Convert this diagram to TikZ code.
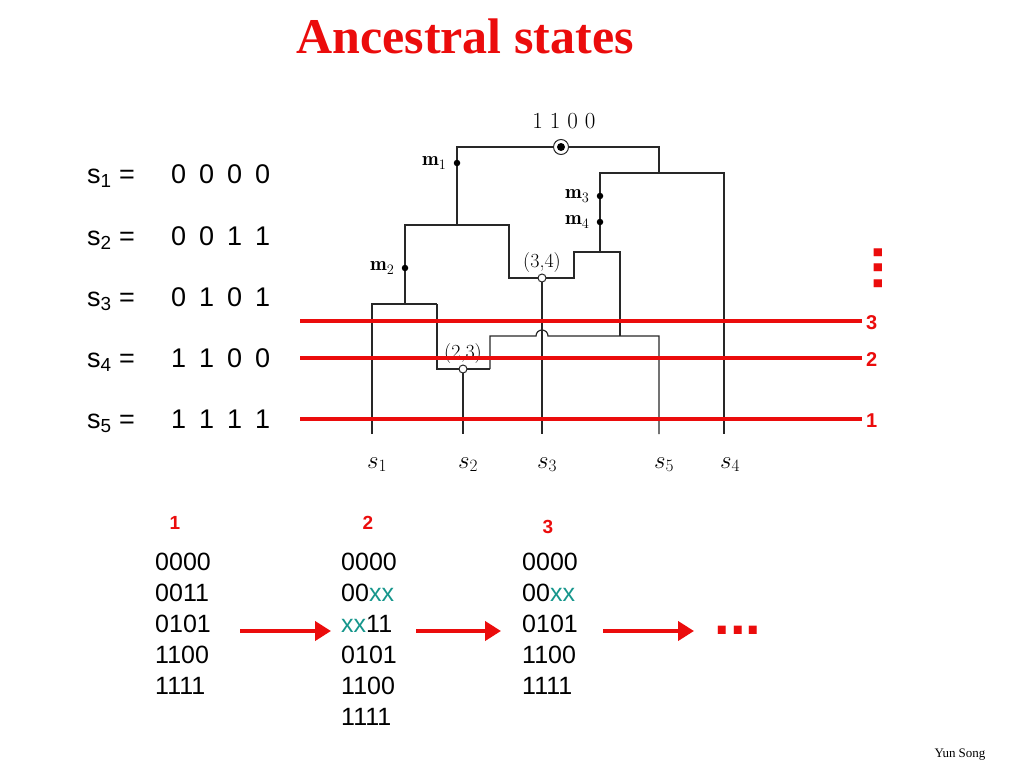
\documentclass[tikz,border=0pt]{standalone}
\usepackage{fontspec}
\usetikzlibrary{arrows.meta}

\newfontfamily\arialfont{Liberation Sans}
\newfontfamily\timesfont{Liberation Serif}

\definecolor{slidered}{RGB}{235,12,12}
\definecolor{xxteal}{RGB}{22,150,140}
\definecolor{treegray}{RGB}{40,40,40}

\begin{document}
\begin{tikzpicture}[x=1pt, y=-1pt,
  branch/.style = {draw=treegray, line width=1.2pt},
  mut/.style = {circle, fill=black, inner sep=0pt, minimum size=6.5pt},
  rec/.style = {circle, draw=treegray, fill=white, line width=1pt, inner sep=0pt, minimum size=8pt},
  mlabel/.style = {font=\fontsize{20}{24}\selectfont, inner sep=1pt},
  leaf/.style = {font=\fontsize{25}{29}\selectfont, anchor=base, inner sep=0pt},
  cut/.style = {draw=slidered, line width=4pt},
  cutlabel/.style = {font=\arialfont\bfseries\fontsize{20}{24}\selectfont, text=slidered, anchor=west, inner sep=4pt},
  steplabel/.style = {font=\arialfont\bfseries\fontsize{19}{22}\selectfont, text=slidered},
  move/.style = {draw=slidered, line width=4pt, -{Triangle[length=16pt, width=19pt]}},
  seq/.style = {font=\arialfont\fontsize{25}{31}\selectfont, align=left, anchor=north west, inner sep=0pt},
  hapname/.style = {font=\arialfont\fontsize{27}{32}\selectfont, anchor=base west, inner sep=0pt},
  hapbits/.style = {font=\arialfont\fontsize{27}{32}\selectfont, anchor=base west, inner sep=0pt},
  reddots/.style = {font=\arialfont\bfseries\fontsize{56}{60}\selectfont, text=slidered, inner sep=0pt}]
\useasboundingbox (0,0) rectangle (1024,768);

% title
\node[font=\timesfont\bfseries\fontsize{50}{56}\selectfont, text=slidered, anchor=base] (title) at (465,53) {Ancestral states};

% haplotypes
\foreach \i/\p/\q/\r/\t/\y in {1/0/0/0/0/183, 2/0/0/1/1/245, 3/0/1/0/1/306, 4/1/1/0/0/367, 5/1/1/1/1/428} {
  \node[hapname] (h\i) at (87,\y) {s\textsubscript{\i} =};
  \node[hapbits] (b\i) at (171,\y) {\p\hspace{13pt}\q\hspace{13pt}\r\hspace{13pt}\t};
}

% tree
\draw[branch] (457,225) -- (457,147) -- (659,147) -- (659,173);
\draw[branch] (600,252) -- (600,173) -- (724,173) -- (724,434);
\draw[branch] (405,304) -- (405,225) -- (509,225) -- (509,278) -- (574,278) -- (574,252) -- (620,252) -- (620,336);
\draw[branch] (542,278) -- (542,434);
\draw[branch] (490,369) -- (490,336) -- (536,336) arc[start angle=180, end angle=360, radius=6] -- (659,336) -- (659,434);
\draw[branch] (437,304) -- (437,369) -- (490,369);
\draw[branch] (463,369) -- (463,434);
\draw[branch] (372,434) -- (372,304) -- (437,304);

% root and events
\node[circle, draw=treegray, fill=white, line width=1pt, inner sep=0pt, minimum size=15pt] (root) at (561,147) {};
\node[circle, fill=black, inner sep=0pt, minimum size=8pt] at (root) {};
\node[font=\fontsize{23}{27}\selectfont, anchor=base] (anc) at (564,128) {1 1 0 0};
\node[mut, label={[mlabel, label distance=6pt]left:$\mathbf{m}_1$}] (m1) at (457,163) {};
\node[mut, label={[mlabel, label distance=6pt]left:$\mathbf{m}_2$}] (m2) at (405,268) {};
\node[mut, label={[mlabel, label distance=6pt]left:$\mathbf{m}_3$}] (m3) at (600,196) {};
\node[mut, label={[mlabel, label distance=6pt]left:$\mathbf{m}_4$}] (m4) at (600,222) {};
\node[rec, label={[mlabel]above:(3,4)}] (r34) at (542,278) {};
\node[rec, label={[mlabel]above:(2,3)}] (r23) at (463,369) {};

% leaves
\node[leaf] (s1) at (377,468) {$s_1$};
\node[leaf] (s2) at (468,468) {$s_2$};
\node[leaf] (s3) at (547,468) {$s_3$};
\node[leaf] (s5) at (664,468) {$s_5$};
\node[leaf] (s4) at (730,468) {$s_4$};

% cuts
\foreach \k/\y in {3/321, 2/358, 1/419} {
  \coordinate (w\k) at (300,\y);
  \node[cutlabel] (c\k) at (862,\y+2) {\k};
  \draw[cut] (w\k) -- (c\k.west |- w\k);
}
\node[reddots, rotate=90] (vdots) at (878,268) {...};

% sequences at each step
\node[steplabel] (t1) at (175,523) {1};
\node[steplabel] (t2) at (368,523) {2};
\node[steplabel] (t3) at (548,527) {3};
\node[seq] (col1) at (155,553) {0000\\0011\\0101\\1100\\1111};
\node[seq] (col2) at (341,553) {0000\\00\textcolor{xxteal}{xx}\\\textcolor{xxteal}{xx}11\\0101\\1100\\1111};
\node[seq] (col3) at (522,553) {0000\\00\textcolor{xxteal}{xx}\\0101\\1100\\1111};
\coordinate (a1) at (240,631); \coordinate (a2) at (331,631);
\coordinate (a3) at (416,631); \coordinate (a4) at (501,631);
\coordinate (a5) at (603,631); \coordinate (a6) at (694,631);
\draw[move] (a1) -- (a2);
\draw[move] (a3) -- (a4);
\draw[move] (a5) -- (a6);
\node[reddots] (hdots) at (738,630) {...};

\node[font=\timesfont\fontsize{13}{15}\selectfont] (author) at (960,755) {Yun Song};
\end{tikzpicture}
\end{document}
